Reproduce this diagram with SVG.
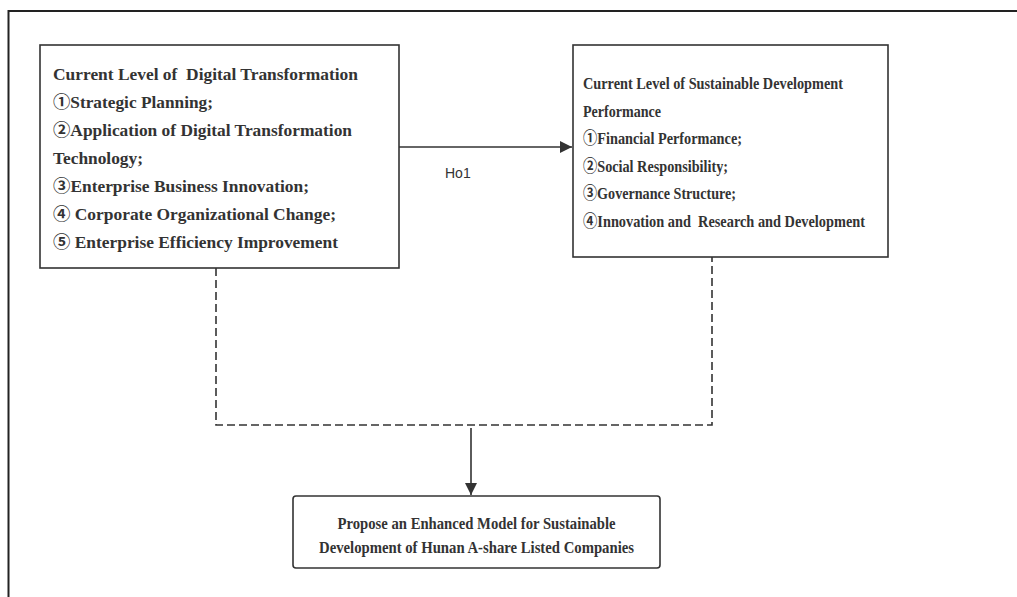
<svg xmlns="http://www.w3.org/2000/svg" width="1017" height="597" viewBox="0 0 1017 597">
<style>
.box{fill:#fff;stroke:#333;stroke-width:1.6}
.t{font-family:"Liberation Serif","Noto Sans CJK SC",serif;font-weight:bold;font-size:16.5px;fill:#333;white-space:pre}
.c{text-anchor:middle}
.lbl{font-family:"Liberation Sans",Arial,sans-serif;font-size:14px;fill:#333}
.conn{fill:none;stroke:#333;stroke-width:1.6}
.dash{stroke-dasharray:8 4}
</style>
<defs>
<marker id="arrH" viewBox="0 0 10 10" refX="10" refY="5" markerWidth="12" markerHeight="12" markerUnits="userSpaceOnUse" orient="auto">
<path d="M0,0 L10,5 L0,10 z" fill="#333"/>
</marker>
</defs>
<rect width="1017" height="597" fill="#fff"/>
<g id="frame">
<path d="M8.5,597 L8.5,11 L1017,11" fill="none" stroke="#222" stroke-width="2"/>
</g>
<g id="connectors">
<line class="conn" x1="399" y1="147" x2="572" y2="147" marker-end="url(#arrH)"/>
<text class="lbl" x="445" y="178">Ho1</text>
<path class="conn dash" d="M216,268 L216,425 L712,425 L712,257"/>
<line class="conn" x1="471" y1="428" x2="471" y2="495" marker-end="url(#arrH)"/>
</g>
<g id="node-digital">
<rect class="box" x="40" y="45" width="359" height="223"/>
<text class="t" x="53" y="79.5" textLength="305" lengthAdjust="spacingAndGlyphs" xml:space="preserve">Current Level of  Digital Transformation</text>
<text class="t" x="53" y="107.5" textLength="160" lengthAdjust="spacingAndGlyphs">①Strategic Planning;</text>
<text class="t" x="53" y="135.5" textLength="299" lengthAdjust="spacingAndGlyphs">②Application of Digital Transformation</text>
<text class="t" x="53" y="163.5" textLength="90" lengthAdjust="spacingAndGlyphs">Technology;</text>
<text class="t" x="53" y="191.5" textLength="256" lengthAdjust="spacingAndGlyphs">③Enterprise Business Innovation;</text>
<text class="t" x="53" y="219.5" textLength="283" lengthAdjust="spacingAndGlyphs">④ Corporate Organizational Change;</text>
<text class="t" x="53" y="247.5" textLength="285" lengthAdjust="spacingAndGlyphs">⑤ Enterprise Efficiency Improvement</text>
</g>
<g id="node-sustainable">
<rect class="box" x="573" y="45" width="315" height="212"/>
<text class="t" x="583" y="89" textLength="260" lengthAdjust="spacingAndGlyphs">Current Level of Sustainable Development</text>
<text class="t" x="583" y="116.5" textLength="78" lengthAdjust="spacingAndGlyphs">Performance</text>
<text class="t" x="583" y="144" textLength="159" lengthAdjust="spacingAndGlyphs">①Financial Performance;</text>
<text class="t" x="583" y="171.5" textLength="145" lengthAdjust="spacingAndGlyphs">②Social Responsibility;</text>
<text class="t" x="583" y="199" textLength="153" lengthAdjust="spacingAndGlyphs">③Governance Structure;</text>
<text class="t" x="583" y="226.5" textLength="282" lengthAdjust="spacingAndGlyphs" xml:space="preserve">④Innovation and  Research and Development</text>
</g>
<g id="node-model">
<rect class="box" x="293" y="496" width="367" height="72" rx="3" ry="3"/>
<text class="t c" x="476.5" y="528.5" textLength="278" lengthAdjust="spacingAndGlyphs">Propose an Enhanced Model for Sustainable</text>
<text class="t c" x="476.5" y="552.5" textLength="315" lengthAdjust="spacingAndGlyphs">Development of Hunan A-share Listed Companies</text>
</g>
</svg>
